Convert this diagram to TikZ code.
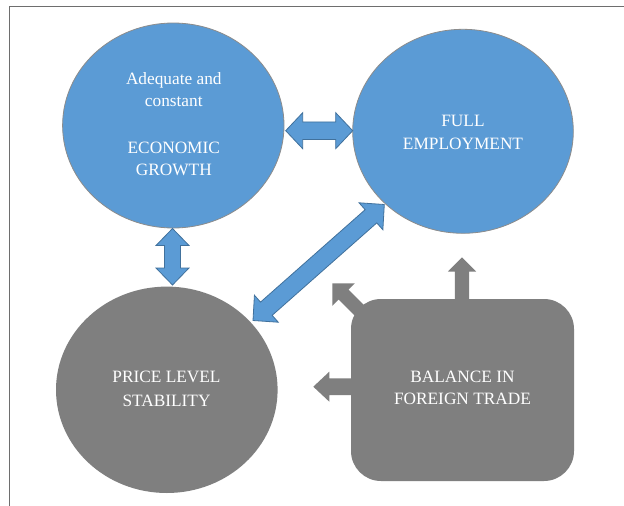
\documentclass[tikz,border=0pt]{standalone}
\usepackage{fontspec}
\setmainfont{Liberation Serif}
\usetikzlibrary{shapes.geometric,calc}
\definecolor{bluefill}{HTML}{5B9BD5}
\definecolor{blueline}{HTML}{41719C}
\definecolor{grayfill}{HTML}{7F7F7F}
\definecolor{framecol}{HTML}{6E6E6E}
\definecolor{circline}{HTML}{8C8C8C}
% double block arrow: #1 tip A, #2 tip B, #3 head length, #4 head half width, #5 shaft half width, #6 style
\newcommand\dblblock[6]{%
  \filldraw[#6] (#1) -- ($(#1)!#3!(#2)!#4!90:(#2)$) -- ($(#1)!#3!(#2)!#5!90:(#2)$)
   -- ($(#2)!#3!(#1)!#5!-90:(#1)$) -- ($(#2)!#3!(#1)!#4!-90:(#1)$) -- (#2)
   -- ($(#2)!#3!(#1)!#4!90:(#1)$) -- ($(#2)!#3!(#1)!#5!90:(#1)$)
   -- ($(#1)!#3!(#2)!#5!-90:(#2)$) -- ($(#1)!#3!(#2)!#4!-90:(#2)$) -- cycle;}
% single block arrow: #1 tail T, #2 tip A, #3 head length, #4 head half width, #5 shaft half width, #6 style
\newcommand\sglblock[6]{%
  \fill[#6] (#2) -- ($(#2)!#3!(#1)!#4!90:(#1)$) -- ($(#2)!#3!(#1)!#5!90:(#1)$)
   -- ($(#1)!#5!-90:(#2)$) -- ($(#1)!#5!90:(#2)$)
   -- ($(#2)!#3!(#1)!#5!-90:(#1)$) -- ($(#2)!#3!(#1)!#4!-90:(#1)$) -- cycle;}
\begin{document}
\begin{tikzpicture}[x=1pt,y=-1pt,
  bluecirc/.style={ellipse, fill=bluefill, draw=circline, line width=0.8pt, inner sep=0pt},
  graycirc/.style={ellipse, fill=grayfill, draw=none, inner sep=0pt},
  grayrect/.style={rectangle, rounded corners=30pt, fill=grayfill, draw=none, inner sep=0pt},
  bluearrow/.style={fill=bluefill, draw=blueline, line width=0.8pt, line join=miter},
  grayarrow/.style={fill=grayfill},
  lbl/.style={text=white, font=\fontsize{17.3}{20}\selectfont, anchor=base, inner sep=0pt},
  framestyle/.style={draw=framecol, line width=1.3pt}]
\useasboundingbox (0,0) rectangle (624,506);
\fill[white] (0,0) rectangle (624,506);
% frame
\coordinate (fr1) at (9.3,506);
\coordinate (fr2) at (9.3,6.7);
\coordinate (fr3) at (624,6.7);
\draw[framestyle] (fr1) -- (fr2) -- (fr3);

% shapes
\node[bluecirc, minimum width=221.4pt, minimum height=205pt] (growth) at (173.3,125.5) {};
\node[bluecirc, minimum width=220.6pt, minimum height=204pt] (employ) at (463,131.3) {};
\node[graycirc, minimum width=221.6pt, minimum height=206.4pt] (price) at (166.8,389.8) {};

% gray arrows from the balance box
\coordinate (upT) at (462,310);
\coordinate (upA) at (462,257.3);
\coordinate (dgT) at (372,323);
\coordinate (dgA) at (332.3,283.3);
\coordinate (lfT) at (365,386.7);
\coordinate (lfA) at (313.3,386.7);
\sglblock{upT}{upA}{14.4pt}{14.2pt}{7.2pt}{grayarrow}
\sglblock{dgT}{dgA}{16pt}{16pt}{7pt}{grayarrow}
\sglblock{lfT}{lfA}{16pt}{15pt}{8.4pt}{grayarrow}

\node[grayrect, minimum width=223pt, minimum height=182pt] (trade) at (462.5,390) {};

% blue double arrows
\coordinate (hA) at (285.7,130.7);
\coordinate (hB) at (352.7,130.7);
\coordinate (vA) at (172.5,228.5);
\coordinate (vB) at (172.5,285);
\coordinate (dA) at (384.3,204.5);
\coordinate (dB) at (253,320.5);
\dblblock{hA}{hB}{17pt}{18pt}{8.8pt}{bluearrow}
\dblblock{vA}{vB}{17pt}{16.5pt}{8pt}{bluearrow}
\dblblock{dA}{dB}{17.8pt}{18pt}{8.8pt}{bluearrow}

% texts
\node[lbl] (t1) at (173.8,84) {Adequate and};
\node[lbl] (t2) at (173.8,106.7) {constant};
\node[lbl] (t3) at (173.8,153.3) {ECONOMIC};
\node[lbl] (t4) at (173.8,175.7) {GROWTH};
\node[lbl] (t5) at (463,126) {FULL};
\node[lbl] (t6) at (463,149.3) {EMPLOYMENT};
\node[lbl] (t7) at (166.5,382.7) {PRICE LEVEL};
\node[lbl] (t8) at (166.5,406) {STABILITY};
\node[lbl] (t9) at (462.5,382) {BALANCE IN};
\node[lbl] (t10) at (462.5,404.3) {FOREIGN TRADE};
\end{tikzpicture}
\end{document}
